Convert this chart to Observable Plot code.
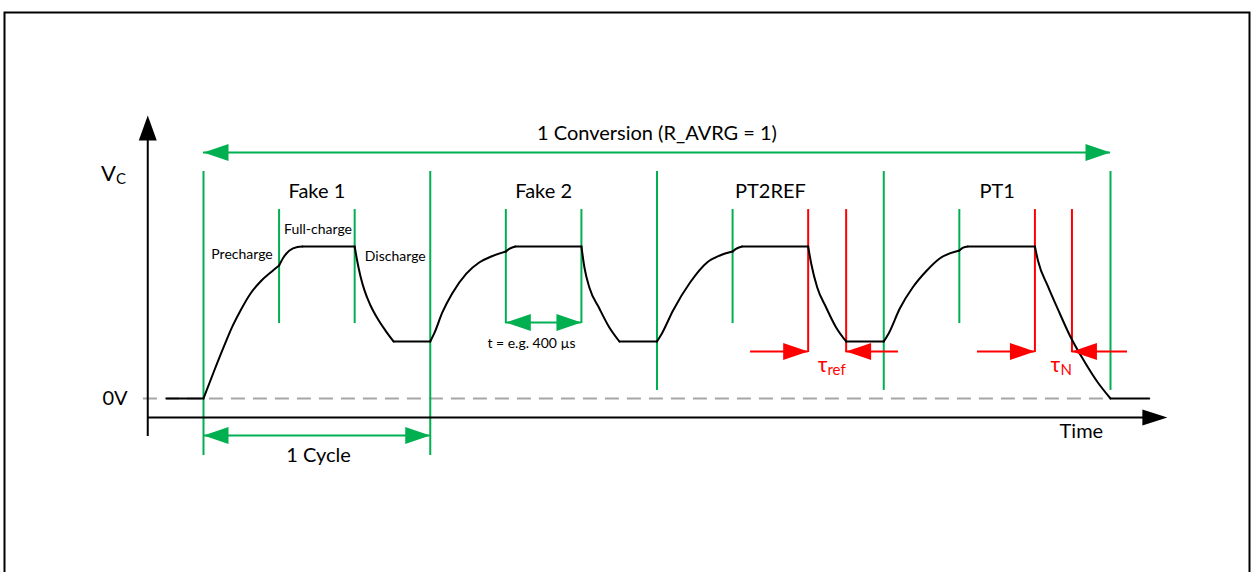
<!DOCTYPE html>
<html><head><meta charset="utf-8">
<script src="https://cdn.jsdelivr.net/npm/d3@7"></script>
<script src="https://cdn.jsdelivr.net/npm/@observablehq/plot@0.6"></script>
<style>html,body{margin:0;padding:0;background:#fff;overflow:hidden}</style>
</head><body><div id="chart"></div>
<script>
// ---- data (time in µs, voltage in % of full charge) ----
const cycleLabels = ["Fake 1", "Fake 2", "PT2REF", "PT1"];
const cycleMid = [600, 1800, 3000, 4200];
const cycleLabelLevel = 136.2;
const cycleBounds = [0, 1200, 2400, 3600, 4800];
const cycleBoundTop = 149.3;
const cycleBoundBottom = [-37.5, -37.5, 5.3, 5.3, 5.3];
const phaseGreen = [400, 800, 1600, 2000, 2800, 4000];
const phaseRed = [3200, 3401, 4400, 4596];
const phaseTop = 124.3, phaseGreenBottom = 49.3, phaseRedBottom = 30.3;

const phaseLabels = ["Precharge", "Full-charge", "Discharge"];
const phaseLabelT = [204, 606, 1015];
const phaseLabelV = [94.7, 111.2, 93.4];

// [piece, t, v]
const fake1Wave = [
  ["lead", -195, 0], ["lead", 0, 0],
  ["rise", 0, 0], ["rise", 53, 17.1], ["rise", 106, 33.6], ["rise", 153, 47.4], ["rise", 196, 57.9],
  ["rise", 249, 69.1], ["rise", 302, 77.0], ["rise", 355, 82.9], ["rise", 400, 87.5],
  ["step", 400, 87.5], ["step", 423, 92.8], ["step", 455, 97.4], ["step", 497, 99.7], ["step", 524, 100],
  ["flat", 524, 100], ["flat", 800, 100],
  ["fall", 800, 100], ["fall", 815, 89.5], ["fall", 831, 80.3], ["fall", 852, 71.1], ["fall", 884, 61.2],
  ["fall", 921, 52.6], ["fall", 963, 44.7], ["fall", 1006, 37.5],
  ["low", 1006, 37.5], ["low", 1200, 37.5]
];
const fake2Wave = [
  ["rise", 1200, 37.5], ["rise", 1221, 42.8], ["rise", 1264, 56.6], ["rise", 1316, 69.1], ["rise", 1391, 82.2],
  ["rise", 1459, 89.5], ["rise", 1523, 93.4], ["rise", 1600, 96.7],
  ["step", 1600, 96.7], ["step", 1618, 98.5], ["step", 1637, 99.5], ["step", 1650, 100],
  ["flat", 1650, 100], ["flat", 2000, 100],
  ["fall", 2000, 100], ["fall", 2016, 86.2], ["fall", 2042, 73.0], ["fall", 2095, 59.2], ["fall", 2148, 46.7], ["fall", 2201, 37.5],
  ["low", 2201, 37.5], ["low", 2400, 37.5]
];
const pt2refWave = [
  ["rise", 2400, 37.5], ["rise", 2426, 42.8], ["rise", 2485, 57.9], ["rise", 2575, 76.3], ["rise", 2665, 89.5],
  ["rise", 2733, 94.1], ["rise", 2800, 96.7],
  ["step", 2800, 96.7], ["step", 2818, 98.5], ["step", 2837, 99.5], ["step", 2850, 100],
  ["flat", 2850, 100], ["flat", 3200, 100],
  ["fall", 3200, 100], ["fall", 3216, 88.8], ["fall", 3248, 73.0], ["fall", 3295, 59.9], ["fall", 3348, 46.7], ["fall", 3401, 37.5],
  ["low", 3401, 37.5], ["low", 3600, 37.5]
];
const pt1Wave = [
  ["rise", 3600, 37.5], ["rise", 3626, 42.8], ["rise", 3685, 59.2], ["rise", 3753, 73.0], ["rise", 3828, 84.2],
  ["rise", 3896, 92.1], ["rise", 4000, 97.4],
  ["step", 4000, 97.4], ["step", 4020, 99.3], ["step", 4045, 100],
  ["flat", 4045, 100], ["flat", 4400, 100],
  ["fall", 4400, 100], ["fall", 4416, 90.8], ["fall", 4469, 73.7], ["fall", 4522, 58.6], ["fall", 4590, 40.1],
  ["fall", 4665, 23.7], ["fall", 4733, 10.5], ["fall", 4800, 0],
  ["tail", 4800, 0], ["tail", 5005, 0]
];

// [label, from, to, level, heads]
const greenSpans = [
  ["1 Conversion (R_AVRG = 1)", 0, 4800, 161.8, "both"],
  ["1 Cycle", 0, 1200, -24.3, "both"],
  ["t = e.g. 400 µs", 1600, 2000, 50.0, "both"]
];
const greenSpanLabelT = [2400, 609, 1736];
const greenSpanLabelV = [174.3, -37.5, 36.2];
const redSpans = [
  ["τref in", 2895, 3200, 30.9, "end"],
  ["τref out", 3401, 3678, 30.9, "start"],
  ["τN in", 4096, 4400, 30.9, "end"],
  ["τN out", 4596, 4890, 30.9, "start"]
];
// [symbol, subscript, t, v]
const axisSymbol = ["V", "C", -463, 148];
const tauLabels = [["τ", "ref", 3302, 21.7], ["τ", "N", 4535, 21.7]];

const yAxisT = -295, yAxisBottom = -25, yAxisTop = 186.2;
const xAxisV = -12.5, xAxisEnd = 5101;
const zeroLineFrom = -318, zeroLineTo = 4800;
const zeroLabel = ["0V", -402, 0];
const timeLabel = ["Time", 4646, -21.7];

// ---- build ----
const GREEN = "#00B050", RED = "#FF0000", GREY = "#A6A6A6";
const waves = [["f1", fake1Wave], ["f2", fake2Wave], ["p2", pt2refWave], ["p1", pt1Wave]]
  .flatMap(([c, w]) => w.map(([p, t, v]) => ({z: c + p, t, v})));
const spanRows = (spans) => spans.map(([label, from, to, level, heads]) => ({label, from, to, level, heads}));
const headRows = (spans) => spanRows(spans).flatMap(s => {
  const out = [];
  if (s.heads === "both" || s.heads === "start") out.push({t: s.from, v: s.level, dir: "left"});
  if (s.heads === "both" || s.heads === "end") out.push({t: s.to, v: s.level, dir: "right"});
  return out;
});
const tri = (L, H, dir) => ({draw(ctx) {
  if (dir === "right") { ctx.moveTo(0, 0); ctx.lineTo(-L, -H); ctx.lineTo(-L, H); }
  else if (dir === "left") { ctx.moveTo(0, 0); ctx.lineTo(L, -H); ctx.lineTo(L, H); }
  else { ctx.moveTo(0, 0); ctx.lineTo(-H, L); ctx.lineTo(H, L); }
  ctx.closePath();
}});
const headMarks = (rows, color) => ["left", "right"].map(dir =>
  Plot.dot(rows.filter(d => d.dir === dir), {x: "t", y: "v", symbol: tri(25, 8.5, dir), fill: color, stroke: "none"}));

const plot = Plot.plot({
  width: 1251, height: 572,
  marginLeft: 4, marginTop: 12, marginRight: 2, marginBottom: -20,
  x: {domain: [0, 4800], range: [203, 1110], axis: null},
  y: {domain: [0, 100], range: [398, 246], axis: null},
  style: {fontFamily: "Lato, sans-serif", background: "white", overflow: "hidden"},
  marks: [
    Plot.frame({stroke: "black", strokeWidth: 2}),
    // 0V dashed reference
    Plot.ruleY([{a: zeroLineFrom, b: zeroLineTo, v: 0}], {x1: "a", x2: "b", y: "v", stroke: GREY, strokeWidth: 2, strokeDasharray: "14,8"}),
    // cycle and phase boundaries
    Plot.ruleX(cycleBounds.map((t, i) => ({t, lo: cycleBoundBottom[i]})), {x: "t", y1: () => cycleBoundTop, y2: "lo", stroke: GREEN, strokeWidth: 2}),
    Plot.ruleX(phaseGreen, {x: d => d, y1: () => phaseTop, y2: () => phaseGreenBottom, stroke: GREEN, strokeWidth: 2}),
    Plot.ruleX(phaseRed, {x: d => d, y1: () => phaseTop, y2: () => phaseRedBottom, stroke: RED, strokeWidth: 2}),
    // waveform
    Plot.line(waves, {x: "t", y: "v", z: "z", curve: "monotone-x", stroke: "black", strokeWidth: 2}),
    // dimension arrows
    Plot.ruleY(spanRows(greenSpans), {x1: "from", x2: "to", y: "level", stroke: GREEN, strokeWidth: 2}),
    Plot.ruleY(spanRows(redSpans), {x1: "from", x2: "to", y: "level", stroke: RED, strokeWidth: 2}),
    ...headMarks(headRows(greenSpans), GREEN),
    ...headMarks(headRows(redSpans), RED),
    // axes
    Plot.ruleX([{t: yAxisT, a: yAxisBottom, b: yAxisTop - 16}], {x: "t", y1: "a", y2: "b", stroke: "black", strokeWidth: 2}),
    Plot.dot([{t: yAxisT, v: yAxisTop}], {x: "t", y: "v", symbol: tri(25, 9, "up"), fill: "black", stroke: "none"}),
    Plot.ruleY([{v: xAxisV, a: yAxisT, b: xAxisEnd - 100}], {y: "v", x1: "a", x2: "b", stroke: "black", strokeWidth: 2}),
    Plot.dot([{t: xAxisEnd, v: xAxisV}], {x: "t", y: "v", symbol: tri(25, 8, "right"), fill: "black", stroke: "none"}),
    // texts
    Plot.text(cycleLabels.map((s, i) => ({s, t: cycleMid[i], v: cycleLabelLevel})), {x: "t", y: "v", text: "s", fontSize: 20, fill: "black"}),
    Plot.text(phaseLabels.map((s, i) => ({s, t: phaseLabelT[i], v: phaseLabelV[i]})), {x: "t", y: "v", text: "s", fontSize: 14, fill: "black"}),
    Plot.text(greenSpans.slice(0, 2).map((s, i) => ({s: s[0], t: greenSpanLabelT[i], v: greenSpanLabelV[i]})), {x: "t", y: "v", text: "s", fontSize: 20, fill: "black"}),
    Plot.text([{s: greenSpans[2][0], t: greenSpanLabelT[2], v: greenSpanLabelV[2]}], {x: "t", y: "v", text: "s", fontSize: 14, fill: "black"}),
    Plot.text([{s: zeroLabel[0], t: zeroLabel[1], v: zeroLabel[2]}], {x: "t", y: "v", text: "s", fontSize: 20, textAnchor: "end", fill: "black"}),
    Plot.text([{s: timeLabel[0], t: timeLabel[1], v: timeLabel[2]}], {x: "t", y: "v", text: "s", fontSize: 20, fill: "black"}),
    Plot.text([{s: axisSymbol[0], t: axisSymbol[2], v: axisSymbol[3]}], {x: "t", y: "v", text: "s", fontSize: 22, textAnchor: "end", fill: "black"}),
    Plot.text([{s: axisSymbol[1], t: axisSymbol[2], v: axisSymbol[3]}], {x: "t", y: "v", text: "s", fontSize: 15, textAnchor: "start", dy: 6, fill: "black"}),
    Plot.text(tauLabels.map(d => ({s: d[0], t: d[2], v: d[3]})), {x: "t", y: "v", text: "s", fontSize: 21, textAnchor: "end", fill: RED}),
    Plot.text(tauLabels.map(d => ({s: d[1], t: d[2], v: d[3]})), {x: "t", y: "v", text: "s", fontSize: 15, textAnchor: "start", dy: 5, fill: RED})
  ]
});
document.getElementById("chart").appendChild(plot);
</script>
</body></html>
